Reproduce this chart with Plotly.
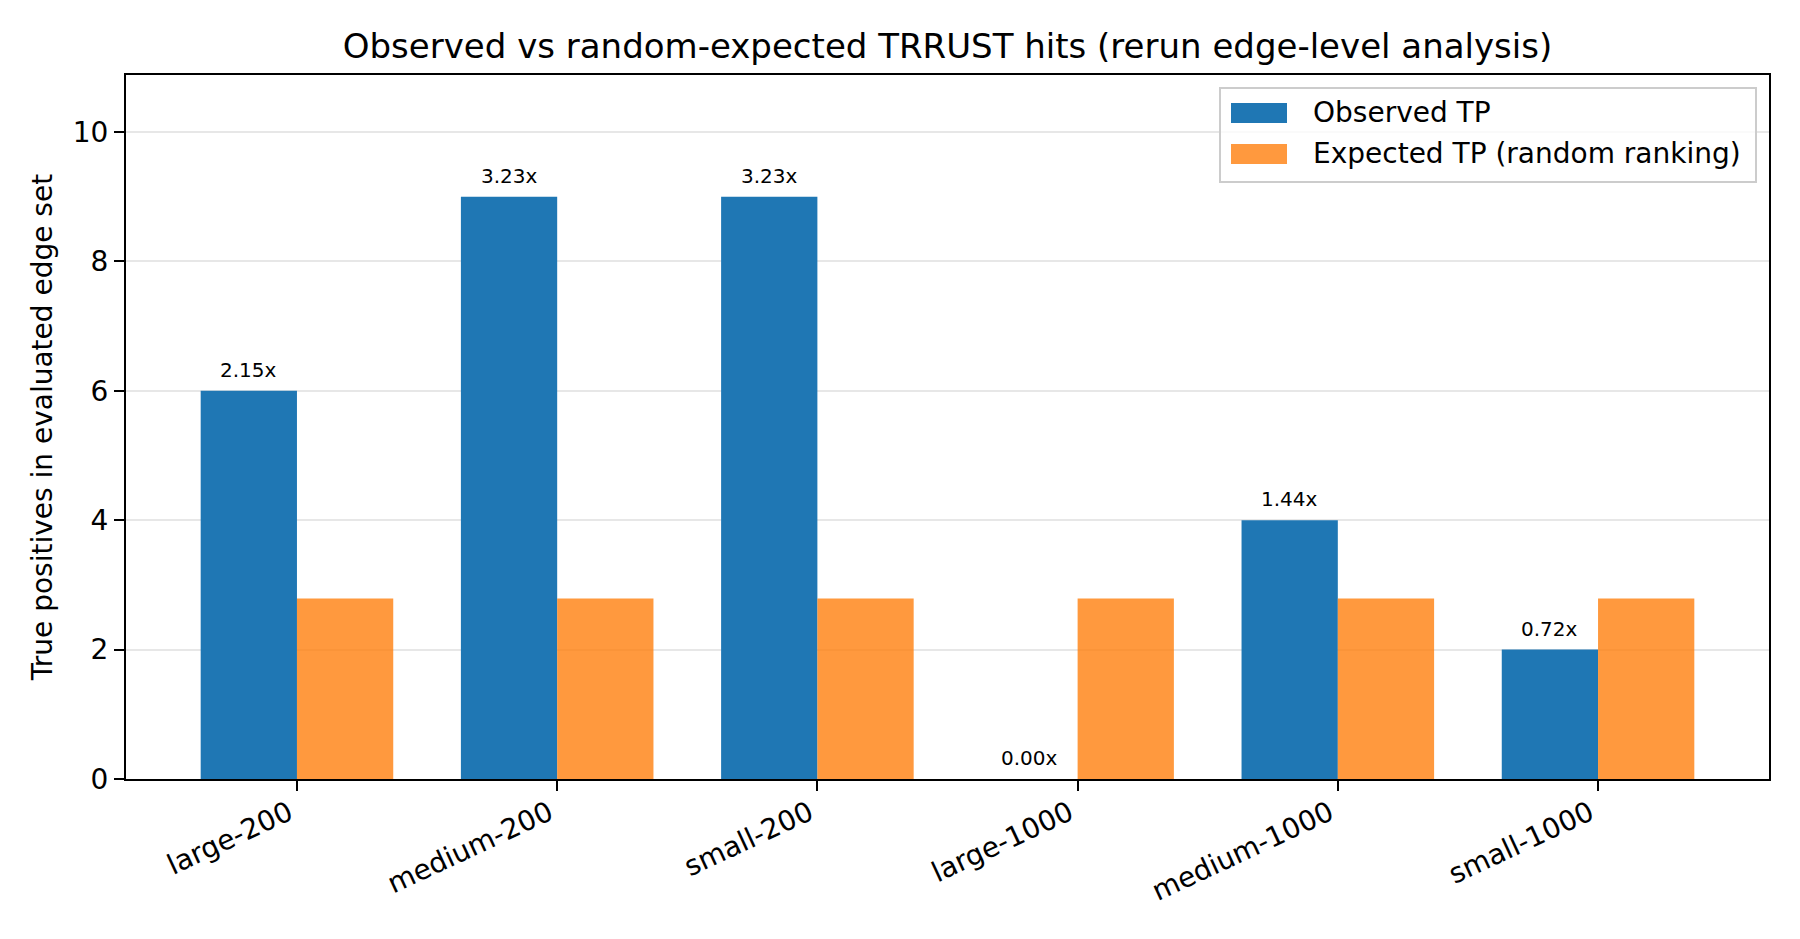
import plotly.graph_objects as go

categories = ["large-200", "medium-200", "small-200", "large-1000", "medium-1000", "small-1000"]
observed_tp = [6, 9, 9, 0, 4, 2]
expected_tp = [2.79, 2.79, 2.79, 2.79, 2.79, 2.79]
ratio_labels = ["2.15x", "3.23x", "3.23x", "0.00x", "1.44x", "0.72x"]
series_names = ["Observed TP", "Expected TP (random ranking)"]
series_colors = ["#1f77b4", "rgba(255,127,14,0.8)"]

FONT = "DejaVu Sans"
BAR_W = 0.37
OFF = 8  # page body margin in the browser

# plot-area pixel box (in the screenshot)
PL, PR, PT, PB = 126, 1769, 75, 779


def px_x(X):
    return (X - PL) / (PR - PL)


def px_y(Y):
    return (PB - Y) / (PB - PT)


fig = go.Figure()
fig.add_trace(go.Bar(
    x=categories, y=observed_tp, name=series_names[0],
    marker=dict(color=series_colors[0], line=dict(width=0)), showlegend=False,
))
fig.add_trace(go.Bar(
    x=categories, y=expected_tp, name=series_names[1],
    marker=dict(color=series_colors[1], line=dict(width=0)), showlegend=False,
))

annotations = []
for i, (v, lab) in enumerate(zip(observed_tp, ratio_labels)):
    annotations.append(dict(
        x=i - BAR_W / 2, y=v + 0.15, xref="x", yref="y", text=lab,
        showarrow=False, yanchor="bottom", xanchor="center", yshift=-3,
        font=dict(family=FONT, size=20, color="black"),
    ))

# custom legend (matplotlib-style)
shapes = [dict(
    type="rect", xref="paper", yref="paper",
    x0=px_x(1220), x1=px_x(1756), y0=px_y(182), y1=px_y(88),
    fillcolor="rgba(255,255,255,0.8)", line=dict(color="#cccccc", width=2),
    layer="above",
)]
row_centers = [113, 154]
for name, col, yc in zip(series_names, series_colors, row_centers):
    shapes.append(dict(
        type="rect", xref="paper", yref="paper",
        x0=px_x(1231), x1=px_x(1287), y0=px_y(yc + 10), y1=px_y(yc - 10),
        fillcolor=col, line=dict(width=0), layer="above",
    ))
    annotations.append(dict(
        x=px_x(1311), y=px_y(yc), xref="paper", yref="paper", text=name,
        showarrow=False, xanchor="left", yanchor="middle",
        font=dict(family=FONT, size=28, color="black"),
    ))

fig.update_layout(
    width=1800 - OFF, height=939 - OFF,
    paper_bgcolor="white", plot_bgcolor="white",
    margin=dict(l=PL - OFF, r=1800 - PR, t=PT - OFF, b=939 - PB),
    barmode="group", bargap=1 - 2 * BAR_W, bargroupgap=0,
    showlegend=False,
    title=dict(
        text="Observed vs random-expected TRRUST hits (rerun edge-level analysis)",
        x=((PL + PR) / 2 - OFF) / (1800 - OFF), xanchor="center",
        y=1 - (46 - OFF) / (939 - OFF), yanchor="middle", yref="container",
        font=dict(family=FONT, size=34, color="black"),
    ),
    font=dict(family=FONT, color="black"),
    annotations=annotations,
    shapes=shapes,
)

fig.update_xaxes(
    type="category", range=[-0.657, 5.657],
    showline=True, linecolor="black", linewidth=2, mirror=True,
    ticks="outside", ticklen=10, tickwidth=2, tickcolor="black",
    tickangle=-25, tickfont=dict(family=FONT, size=28, color="black"),
    ticklabelstandoff=-5, ticklabelshift=-8,
    showgrid=False, automargin=False,
)
fig.update_yaxes(
    range=[0, 10.88], tickvals=[0, 2, 4, 6, 8, 10],
    showline=True, linecolor="black", linewidth=2, mirror=True,
    ticks="outside", ticklen=10, tickwidth=2, tickcolor="black",
    tickfont=dict(family=FONT, size=28, color="black"),
    showgrid=True, gridcolor="rgba(176,176,176,0.3)", gridwidth=2,
    zeroline=False, layer="above traces", automargin=False,
    title=dict(text="True positives in evaluated edge set",
               font=dict(family=FONT, size=28, color="black"), standoff=12),
)

fig.write_html("out.html")
